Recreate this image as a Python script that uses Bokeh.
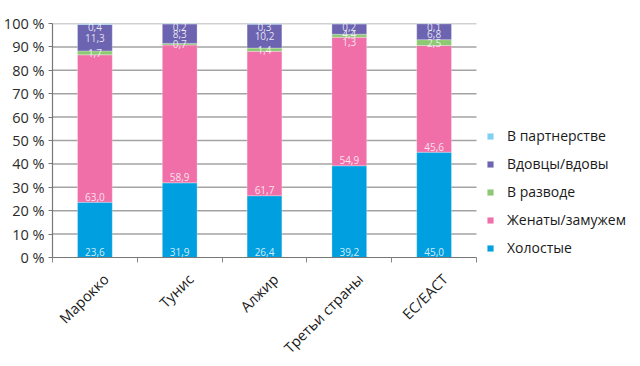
from bokeh.plotting import figure
from bokeh.models import (ColumnDataSource, FixedTicker, Range1d, Legend, LegendItem,
                          CustomJSTickFormatter)
from bokeh.core.properties import value
from bokeh.embed import file_html
from bokeh.resources import INLINE

countries = ["Марокко", "Тунис", "Алжир", "Третьи страны", "ЕС/ЕАСТ"]
single = [23.6, 31.9, 26.4, 39.2, 45.0]
married = [63.0, 58.9, 61.7, 54.9, 45.6]
divorced = [1.7, 0.7, 1.4, 1.3, 2.5]
widowed = [11.3, 8.3, 10.2, 4.4, 6.8]
partnership = [0.4, 0.2, 0.3, 0.2, 0.1]

series_names = ["Холостые", "Женаты/замужем", "В разводе", "Вдовцы/вдовы", "В партнерстве"]
series_keys = ["single", "married", "divorced", "widowed", "partnership"]
colors = ["#009fe0", "#f06fa8", "#8dc873", "#6c64b1", "#7fd0f2"]
y_ticks = [0, 10, 20, 30, 40, 50, 60, 70, 80, 90, 100]

FONT = "Open Sans"
N = len(countries)
x = [i + 0.5 for i in range(N)]
label_shift = 0.13  # rotated category labels sit a little right of the bar centre

W, H = 640, 366
LEFT, RIGHT, TOP, BOTTOM = 52, 4, 23, 108
frame_w = W - LEFT - RIGHT
cat_px = 424 / N  # pixel width of one category
x_end = frame_w / cat_px

src = ColumnDataSource(dict(x=x, single=single, married=married, divorced=divorced,
                            widowed=widowed, partnership=partnership))

p = figure(width=W, height=H, output_backend="svg", toolbar_location=None,
           x_range=Range1d(0, x_end), y_range=Range1d(0, 100),
           min_border_left=LEFT, min_border_right=RIGHT, min_border_top=TOP,
           min_border_bottom=BOTTOM)
p.outline_line_color = None
p.background_fill_color = "white"
p.xgrid.grid_line_color = None
p.ygrid.grid_line_color = None

# horizontal grid lines across the category area only
gy = y_ticks[1:]
p.segment(x0=[0] * len(gy), x1=[N] * len(gy), y0=gy, y1=gy,
          line_color="#a3a3a3", line_width=1.5, level="underlay")

renderers = p.vbar_stack(series_keys, x="x", width=0.41, source=src, color=colors,
                         line_color="white", line_alpha=0.35, line_width=0.8)

# data labels
lx, ly, lt = [], [], []
for i in range(N):
    vals = [single[i], married[i], divorced[i], widowed[i], partnership[i]]
    base = 0.0
    bases = []
    for v in vals:
        bases.append(base)
        base += v
    for k in (0, 1):
        lx.append(x[i]); ly.append(bases[k] + 2.4); lt.append(f"{vals[k]:.1f}".replace(".", ","))
    prev = None
    for k, gap in ((4, None), (3, 3.1), (2, 3.5)):
        c = bases[k] + vals[k] / 2
        y = min(c, 98.7) if prev is None else min(c, prev - gap)
        prev = y
        lx.append(x[i]); ly.append(y); lt.append(f"{vals[k]:.1f}".replace(".", ","))

lsrc = ColumnDataSource(dict(x=lx, y=ly, t=lt))
p.text(x="x", y="y", text="t", source=lsrc, text_font=value(FONT), text_font_size="10px",
       text_color="white", text_alpha=0.82, text_align="center", text_baseline="middle")

# y axis
p.yaxis.ticker = FixedTicker(ticks=y_ticks)
p.yaxis.formatter = CustomJSTickFormatter(code="return tick + ' %';")
p.yaxis.major_label_text_font = FONT
p.yaxis.major_label_text_font_size = "14.5px"
p.yaxis.major_label_text_color = "#2b2b2b"
p.yaxis.major_label_standoff = 4
p.yaxis.axis_line_color = "#777777"
p.yaxis.axis_line_width = 1.2
p.yaxis.major_tick_line_color = "#777777"
p.yaxis.major_tick_out = 4
p.yaxis.major_tick_in = 0
p.yaxis.minor_tick_line_color = None

# x axis
xt = [v + label_shift for v in x]
p.xaxis.bounds = (0, N)
p.xaxis.ticker = FixedTicker(ticks=xt, minor_ticks=list(range(N + 1)))
p.xaxis.major_label_overrides = {xv: c for xv, c in zip(xt, countries)}
p.xaxis.major_label_orientation = 0.785398
p.xaxis.major_label_text_font = FONT
p.xaxis.major_label_text_font_size = "14.5px"
p.xaxis.major_label_text_color = "#1a1a1a"
p.xaxis.major_label_standoff = 13
p.xaxis.major_tick_line_color = None
p.xaxis.minor_tick_line_color = "#888888"
p.xaxis.minor_tick_out = 5
p.xaxis.minor_tick_in = 0
p.xaxis.axis_line_color = "#777777"
p.xaxis.axis_line_width = 1.2

# legend
items = [LegendItem(label=series_names[k], renderers=[renderers[k]]) for k in (4, 3, 2, 1, 0)]
legend = Legend(items=items, location=(434, 0), padding=0, margin=0, spacing=9,
                glyph_width=8, glyph_height=8, label_standoff=13, label_height=14,
                label_text_font=FONT, label_text_font_size="14px", label_text_color="#1a1a1a",
                border_line_color=None, background_fill_alpha=0)
p.add_layout(legend, "center")

open("out.html", "w").write(file_html(p, INLINE))
